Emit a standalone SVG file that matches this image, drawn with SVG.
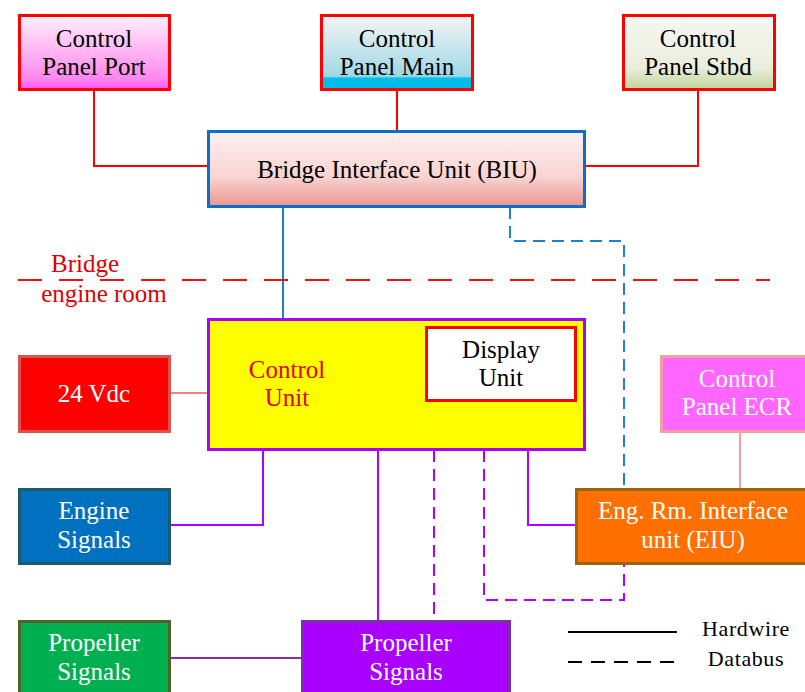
<svg xmlns="http://www.w3.org/2000/svg" width="805" height="692" viewBox="0 0 805 692">
<defs>
<linearGradient id="gPort" x1="0" y1="0" x2="0" y2="1"><stop offset="0" stop-color="#fff0fb"/><stop offset="0.85" stop-color="#ff88ee"/><stop offset="1" stop-color="#ff55ff"/></linearGradient>
<linearGradient id="gMain" x1="0" y1="0" x2="0" y2="1"><stop offset="0" stop-color="#f4f4f4"/><stop offset="0.82" stop-color="#9fd8e6"/><stop offset="0.85" stop-color="#00c0ea"/><stop offset="1" stop-color="#00b8e8"/></linearGradient>
<linearGradient id="gStbd" x1="0" y1="0" x2="0" y2="1"><stop offset="0" stop-color="#f6f6f2"/><stop offset="0.7" stop-color="#eaeedd"/><stop offset="1" stop-color="#c0d49a"/></linearGradient>
<linearGradient id="gBiu" x1="0" y1="0" x2="0" y2="1"><stop offset="0" stop-color="#fdf0f0"/><stop offset="0.6" stop-color="#f8d4d2"/><stop offset="1" stop-color="#ee958e"/></linearGradient>
</defs>
<style>
text{font-family:"Liberation Serif","DejaVu Serif",serif;font-size:25px;text-anchor:middle}
.k{fill:#000}
.w{fill:#fff}
.r{fill:#e00000}
.lg{font-size:22px;letter-spacing:0.6px}
.c{fill:none;stroke-width:2}
.red{stroke:#ff0000}
.blue{stroke:#1f7fd0}
.pur{stroke:#b000ff}
.dash{stroke-dasharray:12,7}
</style>
<g id="connectors">
<polyline class="c red" points="94,90 94,166 207,166"/>
<line class="c red" x1="397" y1="90" x2="397" y2="131"/>
<polyline class="c red" points="698,90 698,166 585,166"/>
<line class="c blue" x1="283" y1="207" x2="283" y2="318"/>
<polyline class="c blue dash" points="510,207 510,241 624,241 624,488"/>
<line class="c" stroke="#e8867f" x1="170" y1="393" x2="207" y2="393"/>
<line class="c" stroke="#f0a0a0" x1="740" y1="432" x2="740" y2="488"/>
<polyline class="c pur" points="263,450 263,525 170,525"/>
<polyline class="c pur" points="528,450 528,525 575,525"/>
<line class="c pur" x1="378" y1="450" x2="378" y2="620"/>
<line class="c pur dash" x1="434" y1="450" x2="434" y2="620"/>
<polyline class="c pur dash" points="484,450 484,600 624,600 624,564"/>
<line class="c" stroke="#8030b0" x1="170" y1="658" x2="301" y2="658"/>
</g>
<g id="divider">
<line x1="18" y1="280" x2="770" y2="280" stroke="#ee1111" stroke-width="2" stroke-dasharray="24,17"/>
<text class="r" x="85" y="272">Bridge</text>
<text class="r" x="104" y="302">engine room</text>
</g>
<g id="cp-port">
<rect x="19.5" y="15.5" width="150" height="74" fill="url(#gPort)" stroke="#ff0000" stroke-width="3"/>
<text class="k" x="94" y="47">Control</text>
<text class="k" x="94" y="75">Panel Port</text>
</g>
<g id="cp-main">
<rect x="321.5" y="15.5" width="151" height="74" fill="url(#gMain)" stroke="#ff0000" stroke-width="3"/>
<text class="k" x="397" y="47">Control</text>
<text class="k" x="397" y="75">Panel Main</text>
</g>
<g id="cp-stbd">
<rect x="623.5" y="15.5" width="151" height="74" fill="url(#gStbd)" stroke="#ff0000" stroke-width="3"/>
<text class="k" x="698" y="47">Control</text>
<text class="k" x="698" y="75">Panel Stbd</text>
</g>
<g id="biu">
<rect x="208.5" y="131.5" width="376" height="75" fill="url(#gBiu)" stroke="#0a6fc8" stroke-width="3"/>
<text class="k" x="397" y="178">Bridge Interface Unit (BIU)</text>
</g>
<g id="control-unit">
<rect x="208.5" y="319.5" width="376" height="130" fill="#ffff00" stroke="#aa00ff" stroke-width="3"/>
<text class="r" x="287" y="378">Control</text>
<text class="r" x="287" y="406">Unit</text>
</g>
<g id="display-unit">
<rect x="426.5" y="327.5" width="149" height="73" fill="#ffffff" stroke="#ff0000" stroke-width="3"/>
<text class="k" x="501" y="358">Display</text>
<text class="k" x="501" y="386">Unit</text>
</g>
<g id="vdc">
<rect x="19.5" y="356.5" width="150" height="75" fill="#ff0000" stroke="#d9534f" stroke-width="3"/>
<text class="w" x="94" y="402">24 Vdc</text>
</g>
<g id="cp-ecr">
<rect x="661.5" y="356.5" width="150" height="75" fill="#ff66ff" stroke="#f0a0a0" stroke-width="3"/>
<text class="w" x="737" y="387">Control</text>
<text class="w" x="737" y="415">Panel ECR</text>
</g>
<g id="engine-signals">
<rect x="19.5" y="489.5" width="150" height="74" fill="#0070c0" stroke="#1d5a6e" stroke-width="3"/>
<text class="w" x="94" y="519">Engine</text>
<text class="w" x="94" y="548">Signals</text>
</g>
<g id="eiu">
<rect x="576.5" y="489.5" width="240" height="74" fill="#ff7000" stroke="#9a6410" stroke-width="3"/>
<text class="w" x="693" y="519">Eng. Rm. Interface</text>
<text class="w" x="693" y="548">unit (EIU)</text>
</g>
<g id="prop-green">
<rect x="19.5" y="621.5" width="150" height="80" fill="#00b050" stroke="#4f6228" stroke-width="3"/>
<text class="w" x="94" y="651">Propeller</text>
<text class="w" x="94" y="680">Signals</text>
</g>
<g id="prop-purple">
<rect x="302.5" y="621.5" width="207" height="80" fill="#aa00ff" stroke="#7a30a8" stroke-width="3"/>
<text class="w" x="406" y="651">Propeller</text>
<text class="w" x="406" y="680">Signals</text>
</g>
<g id="legend">
<line x1="568" y1="632" x2="677" y2="632" stroke="#000" stroke-width="2"/>
<text class="k lg" x="746" y="636">Hardwire</text>
<line x1="568" y1="662" x2="677" y2="662" stroke="#000" stroke-width="2" stroke-dasharray="14,9"/>
<text class="k lg" x="746" y="666">Databus</text>
</g>
</svg>
